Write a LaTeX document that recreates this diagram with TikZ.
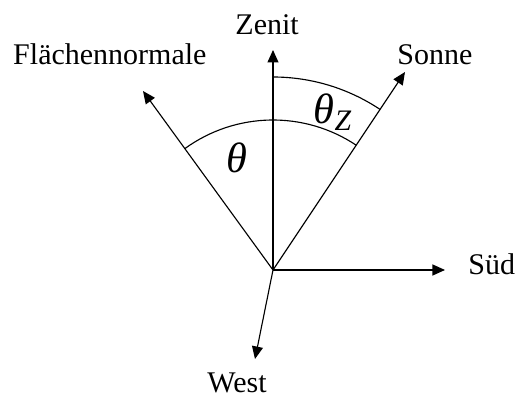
\documentclass[tikz,border=0pt]{standalone}
\usepackage{fontspec}
\setmainfont{Liberation Serif}
\usepackage{tikz}
\usetikzlibrary{arrows.meta, positioning, calc}
\tikzset{
  vec/.style={-{Triangle[length=5pt,width=4.4pt]}, line width=0.45pt, black},
  ang/.style={line width=0.45pt, black},
  lbl/.style={font=\fontsize{12}{14}\selectfont, inner sep=0pt},
  sym/.style={font=\fontsize{17}{19}\selectfont\itshape, inner sep=0pt},
}

\begin{document}
\begin{tikzpicture}[x=0.4pt, y=0.4pt]
\useasboundingbox (-273,-129) rectangle (242,270);
% Ursprung und Richtungen
\coordinate (o) at (0,0);
\coordinate (zen) at (0,220);
\coordinate (son) at (132,198);
\coordinate (nor) at (-130,179);
\coordinate (sud) at (172,0);
\coordinate (wes) at (-18,-89);

\foreach \p in {zen,son,nor,sud,wes} \draw[vec] (o) -- (\p);

% Winkelbögen
\draw[ang] (o) ++(126:150) arc[start angle=126, end angle=56.3, radius=150];
\draw[ang] (o) ++(90:193) arc[start angle=90, end angle=56.3, radius=193];

% Beschriftungen
\node[lbl, anchor=base west] (lzen) at (-38,235) {Zenit};
\node[lbl, anchor=base west] (lson) at (124,205) {Sonne};
\node[lbl, anchor=base east] (lnor) at (-66,205) {Flächennormale};
\node[lbl, anchor=base west] (lsud) at (195,-5) {Süd};
\node[lbl, anchor=base west] (lwes) at (-66,-123) {West};
\node[sym] (th) at (-36,112) {θ};
\node[sym] (thz) at (60,158) {θ\textsubscript{Z}};

\end{tikzpicture}
\end{document}
